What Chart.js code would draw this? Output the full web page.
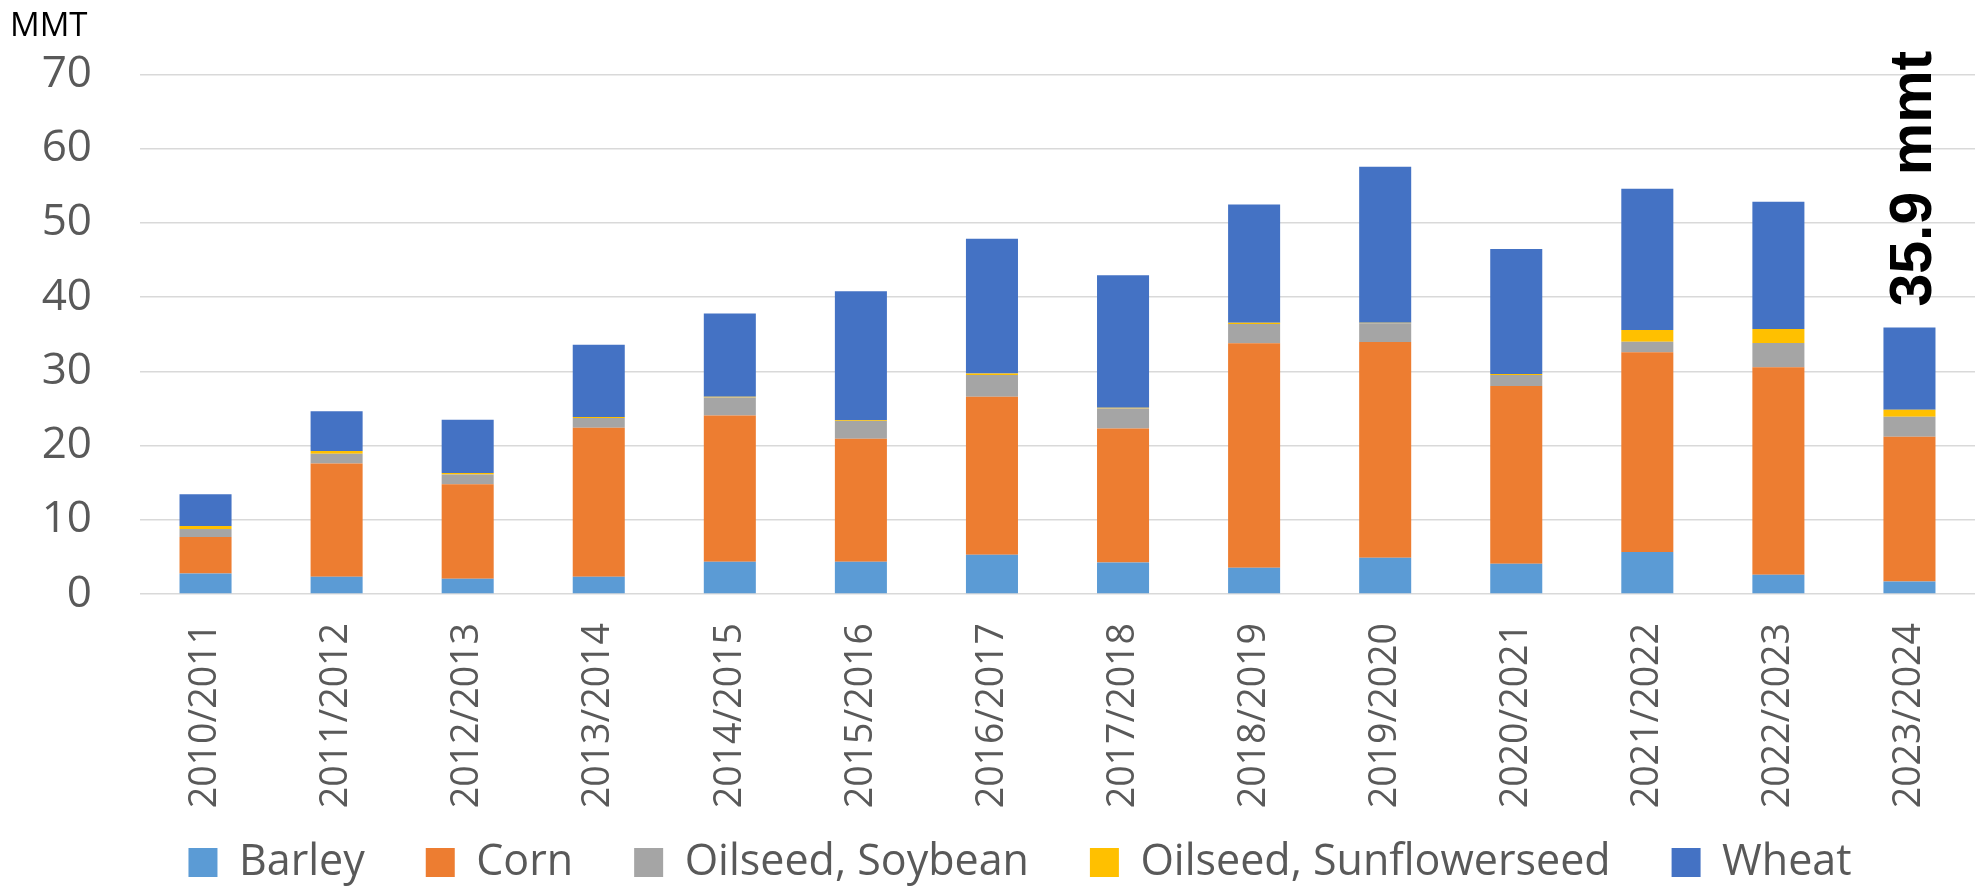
<!DOCTYPE html>
<html>
<head>
<meta charset="utf-8">
<script src="https://cdn.jsdelivr.net/npm/chart.js@4.4.1/dist/chart.umd.min.js"></script>
<style>
  html, body { margin: 0; padding: 0; background: #fff; }
  #wrap { width: 1986px; height: 890px; }
</style>
</head>
<body>
<div id="wrap"><canvas id="myChart" width="1986" height="890"></canvas></div>
<script>
// Marketing years
const years = [
  '2010/2011', '2011/2012', '2012/2013', '2013/2014', '2014/2015',
  '2015/2016', '2016/2017', '2017/2018', '2018/2019', '2019/2020',
  '2020/2021', '2021/2022', '2022/2023', '2023/2024'
];

// MMT per crop
const barley = [2.75, 2.33, 2.07, 2.33, 4.34, 4.34, 5.29, 4.24, 3.55, 4.87, 4.08, 5.67, 2.59, 1.69];
const corn = [4.93, 15.25, 12.7, 20.07, 19.7, 16.58, 21.29, 18.05, 30.23, 29.07, 23.93, 26.89, 27.96, 19.49];
const soybean = [1.06, 1.32, 1.33, 1.32, 2.43, 2.38, 2.91, 2.7, 2.6, 2.54, 1.48, 1.43, 3.28, 2.7];
const sunflower = [0.42, 0.37, 0.21, 0.11, 0.11, 0.1, 0.21, 0.11, 0.16, 0.06, 0.16, 1.59, 1.86, 0.95];
const wheat = [4.29, 5.35, 7.15, 9.74, 11.22, 17.4, 18.17, 17.84, 15.93, 21.02, 16.84, 19.01, 17.15, 11.07];

const yTicks = [0, 10, 20, 30, 40, 50, 60, 70];
const unitLabel = 'MMT';

const grey = '#595959';

// tick labels are allowed to run outside the (fixed size) axis boxes
Chart.Scale.prototype._computeLabelArea = function () {
  return undefined;
};

// "MMT" top left + total of the last season
const notesPlugin = {
  id: 'notes',
  afterDatasetsDraw(chart) {
    const ctx = chart.ctx;
    const x = chart.scales.x;
    const y = chart.scales.y;

    ctx.save();
    ctx.fillStyle = '#000000';
    ctx.font = '33px "Open Sans"';
    ctx.textAlign = 'left';
    ctx.textBaseline = 'alphabetic';
    ctx.fillText(unitLabel, 10, 36);
    ctx.restore();

    const last = years.length - 1;
    const total = barley[last] + corn[last] + soybean[last] + sunflower[last] + wheat[last];
    const px = x.getPixelForValue(last) + 5;
    const py = y.getPixelForValue(total) - 21;
    ctx.save();
    ctx.translate(px, py);
    ctx.rotate(-Math.PI / 2);
    ctx.fillStyle = '#000000';
    ctx.font = 'bold 59px "Liberation Sans"';
    ctx.textAlign = 'left';
    ctx.textBaseline = 'middle';
    ctx.fillText(total.toFixed(1) + ' mmt', 0, 0);
    ctx.restore();
  }
};

const makeSet = (label, data, color) => ({
  label: label,
  data: data,
  backgroundColor: color,
  borderWidth: 0,
  categoryPercentage: 1,
  barPercentage: 0.397
});

const ctx = document.getElementById('myChart').getContext('2d');

const chart = new Chart(ctx, {
  type: 'bar',
  data: {
    labels: years,
    datasets: [
      makeSet('Barley', barley, '#5B9BD5'),
      makeSet('Corn', corn, '#ED7D31'),
      makeSet('Oilseed, Soybean', soybean, '#A5A5A5'),
      makeSet('Oilseed, Sunflowerseed', sunflower, '#FFC000'),
      makeSet('Wheat', wheat, '#4472C4')
    ]
  },
  options: {
    responsive: false,
    animation: false,
    devicePixelRatio: 1,
    layout: {
      padding: { top: 71, left: 65, right: 11, bottom: -4 }
    },
    plugins: {
      legend: {
        position: 'bottom',
        labels: {
          boxWidth: 29,
          boxHeight: 29,
          padding: 61,
          color: grey,
          font: { family: '"Open Sans"', size: 43 }
        }
      },
      tooltip: { enabled: false }
    },
    scales: {
      x: {
        stacked: true,
        grid: { display: false, drawTicks: false },
        border: { display: false },
        ticks: {
          minRotation: 90,
          maxRotation: 90,
          autoSkip: false,
          padding: 29,
          color: grey,
          font: { family: '"Open Sans"', size: 37.5 }
        },
        afterFit: (scale) => { scale.height = 186; }
      },
      y: {
        stacked: true,
        min: 0,
        max: 70,
        afterBuildTicks: (scale) => {
          scale.ticks = yTicks.map((v) => ({ value: v }));
        },
        grid: { color: '#D9D9D9', lineWidth: 1.5, drawTicks: false },
        border: { display: false },
        ticks: {
          padding: 48,
          color: grey,
          font: { family: '"Open Sans"', size: 44 }
        },
        afterFit: (scale) => { scale.width = 75; }
      }
    }
  },
  plugins: [notesPlugin]
});
</script>
</body>
</html>
